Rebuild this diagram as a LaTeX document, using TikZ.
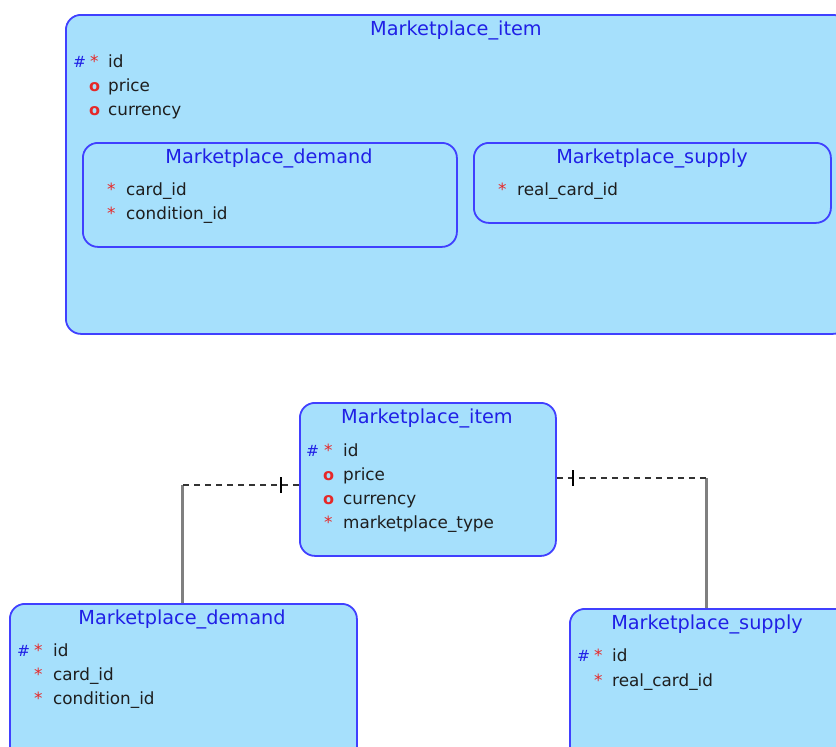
\documentclass[tikz,border=0pt]{standalone}
\usepackage{fontspec}
\setmainfont{DejaVu Sans}
\begin{document}
\begin{tikzpicture}[x=1pt,y=-1pt,
  entity/.style={draw=entborder, fill=entfill, line width=1.8pt, rounded corners=15pt,
    anchor=north west, inner sep=0pt},
  title/.style={text=titleblue, font=\fontsize{19.3}{21}\selectfont, anchor=base, inner sep=0pt},
  field/.style={text=fieldtext, font=\fontsize{16.8}{18}\selectfont, anchor=base west, inner sep=0pt},
  keymark/.style={text=titleblue, font=\fontsize{15.5}{18}\selectfont, anchor=base west, inner sep=0pt},
  reqmark/.style={text=markred, font=\fontsize{16.8}{18}\selectfont, anchor=base west, inner sep=0pt},
  optmark/.style={text=markred, font=\bfseries\fontsize{16}{18}\selectfont, anchor=base west, inner sep=0pt},
  relline/.style={draw=black!80, line width=1.3pt, dash pattern=on 6pt off 5pt},
  relleg/.style={draw=black!50, line width=3pt},
  tick/.style={draw=black, line width=1.3pt}]
\definecolor{entfill}{RGB}{166,224,252}
\definecolor{entborder}{RGB}{64,64,255}
\definecolor{titleblue}{RGB}{32,32,230}
\definecolor{markred}{RGB}{230,40,40}
\definecolor{fieldtext}{RGB}{30,30,30}
\useasboundingbox (0,0) rectangle (836,747);

% ---- nested view ----
\node[entity, minimum width=782pt, minimum height=319pt] (outer) at (65,14) {};
\node[title] (outerT) at (456,35) {Marketplace\_item};
\node[keymark] (oK1) at (73,67.5) {\#};
\node[reqmark] (oR1) at (90,67.5) {*};
\node[field] (oF1) at (108,67.5) {id};
\node[optmark] (oR2) at (89,91.5) {o};
\node[field] (oF2) at (108,91.5) {price};
\node[optmark] (oR3) at (89,115.5) {o};
\node[field] (oF3) at (108,115.5) {currency};

\node[entity, minimum width=374pt, minimum height=104pt] (innerD) at (82,142) {};
\node[title] (innerDT) at (269,163) {Marketplace\_demand};
\node[reqmark] (iR1) at (107,195) {*};
\node[field] (iF1) at (126,195) {card\_id};
\node[reqmark] (iR2) at (107,219.5) {*};
\node[field] (iF2) at (126,219.5) {condition\_id};

\node[entity, minimum width=357pt, minimum height=80pt] (innerS) at (473,142) {};
\node[title] (innerST) at (652,163) {Marketplace\_supply};
\node[reqmark] (jR1) at (498,195.5) {*};
\node[field] (jF1) at (517,195.5) {real\_card\_id};

% ---- separated view ----
\node[entity, minimum width=256pt, minimum height=153pt] (item) at (299,402) {};
\node[title] (itemT) at (427,423) {Marketplace\_item};
\node[keymark] (aK1) at (306,456.5) {\#};
\node[reqmark] (aR1) at (324,456.5) {*};
\node[field] (aF1) at (343,456.5) {id};
\node[optmark] (aR2) at (323,480.5) {o};
\node[field] (aF2) at (343,480.5) {price};
\node[optmark] (aR3) at (323,504.5) {o};
\node[field] (aF3) at (343,504.5) {currency};
\node[reqmark] (aR4) at (324,528.5) {*};
\node[field] (aF4) at (343,528.5) {marketplace\_type};

\node[entity, minimum width=347pt, minimum height=160pt] (demand) at (9,603) {};
\node[title] (demandT) at (182,624) {Marketplace\_demand};
\node[keymark] (dK1) at (17,656.5) {\#};
\node[reqmark] (dR1) at (34,656.5) {*};
\node[field] (dF1) at (53,656.5) {id};
\node[reqmark] (dR2) at (34,680.5) {*};
\node[field] (dF2) at (53,680.5) {card\_id};
\node[reqmark] (dR3) at (34,704.5) {*};
\node[field] (dF3) at (53,704.5) {condition\_id};

\node[entity, minimum width=290pt, minimum height=160pt] (supply) at (569,608) {};
\node[title] (supplyT) at (707,629) {Marketplace\_supply};
\node[keymark] (sK1) at (577,661.5) {\#};
\node[reqmark] (sR1) at (594,661.5) {*};
\node[field] (sF1) at (612,661.5) {id};
\node[reqmark] (sR2) at (594,686.5) {*};
\node[field] (sF2) at (612,686.5) {real\_card\_id};

% ---- relations ----
\coordinate (lbend) at (182,485);
\coordinate (ltick) at (281,485);
\draw[relleg] (demand.north -| lbend) -- (lbend);
\draw[relline] (item.west |- lbend) -- (lbend);
\draw[tick] ([yshift=-8pt]ltick) -- ([yshift=8pt]ltick);

\coordinate (rbend) at (706,478);
\coordinate (rtick) at (573,478);
\draw[relleg] (supply.north -| rbend) -- (rbend);
\draw[relline] (item.east |- rbend) -- (rbend);
\draw[tick] ([yshift=-8pt]rtick) -- ([yshift=8pt]rtick);
\end{tikzpicture}
\end{document}
